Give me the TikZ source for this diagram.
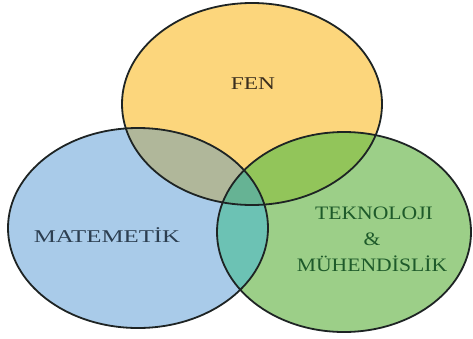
\documentclass[tikz,border=0pt]{standalone}
\usepackage{fontspec}
\setmainfont{Liberation Serif}
\definecolor{cY}{HTML}{FCD67C}
\definecolor{cB}{HTML}{A9CBE9}
\definecolor{cG}{HTML}{9CCF88}
\definecolor{cBY}{HTML}{B0B79A}
\definecolor{cYG}{HTML}{92C55A}
\definecolor{cBG}{HTML}{6CC2B4}
\definecolor{cBYG}{HTML}{66B394}
\definecolor{cLine}{HTML}{1E2424}
\definecolor{tY}{HTML}{3A2E1E}
\definecolor{tB}{HTML}{2C3E50}
\definecolor{tG}{HTML}{1E5A2A}
\tikzset{
  outline/.style={draw=cLine, line width=1.8pt},
  lbl/.style={font=\fontsize{18}{21}\selectfont, inner sep=0pt},
  lblG/.style={font=\fontsize{19}{22}\selectfont, xscale=1.14, inner sep=0pt, text=tG}
}
\def\ellY{(252,104) ellipse [x radius=130, y radius=101]}
\def\ellB{(138,228) ellipse [x radius=130, y radius=100]}
\def\ellG{(344,232) ellipse [x radius=127, y radius=100]}
\begin{document}
\begin{tikzpicture}[x=1pt,y=-1pt]
\path[fill=white, use as bounding box] (0,0) rectangle (473,338);
\fill[cY] \ellY;
\fill[cB] \ellB;
\fill[cG] \ellG;
\begin{scope}
  \clip \ellY; \fill[cBY] \ellB;
\end{scope}
\begin{scope}
  \clip \ellY; \fill[cYG] \ellG;
\end{scope}
\begin{scope}
  \clip \ellB; \fill[cBG] \ellG;
\end{scope}
\begin{scope}
  \clip \ellY; \clip \ellB; \fill[cBYG] \ellG;
\end{scope}
\draw[outline] \ellY;
\draw[outline] \ellB;
\draw[outline] \ellG;
\node[lbl, xscale=1.3, text=tY] (fen) at (253,84) {FEN};
\node[lbl, xscale=1.38, text=tB] (mat) at (107,235) {MATEMETİK};
\node[lblG] (tek) at (374,213) {TEKNOLOJI};
\node[lblG] (amp) at (372,239) {\&};
\node[lblG] (muh) at (372,264) {MÜHENDİSLİK};
\end{tikzpicture}
\end{document}
